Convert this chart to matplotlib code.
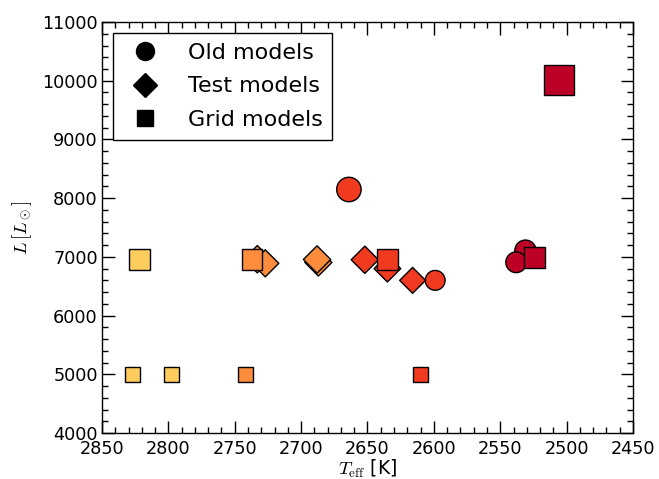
import matplotlib
matplotlib.use("Agg")
import matplotlib.pyplot as plt
from matplotlib.colors import ListedColormap, BoundaryNorm
from matplotlib.lines import Line2D
from matplotlib.ticker import MultipleLocator
import numpy as np

# Data
old_T = [2664, 2531, 2538, 2599]
old_L = [8148, 7105, 6908, 6600]
test_T = [2733, 2727, 2687, 2688, 2652, 2635, 2616]
test_L = [6960, 6890, 6905, 6956, 6951, 6800, 6600]
grid_T = [2822, 2827, 2798, 2742, 2737, 2635, 2610, 2524, 2506]
grid_L = [6960, 5000, 5000, 5000, 6960, 6960, 5000, 6993, 10020]
legend_labels = ["Old models", "Test models", "Grid models"]

plt.rcParams['mathtext.fontset'] = 'cm'

cmap = ListedColormap(["#BD0026", "#F03B20", "#FD8D3C", "#FECC5C"])
norm = BoundaryNorm([2450, 2575, 2675, 2775, 2850], cmap.N)

fig = plt.figure(figsize=(6.59, 4.79), dpi=100)
ax = fig.add_axes([0.1548, 0.096, 0.8057, 0.858])

k = 0.00216  # marker size (pt) per unit luminosity

def sizes(L, f=k):
    return (np.asarray(L) * f) ** 2

ax.scatter(old_T, old_L, s=sizes(old_L), c=old_T, cmap=cmap, norm=norm,
           marker='o', edgecolors='black', linewidths=1.0, zorder=3)
ax.scatter(test_T, test_L, s=sizes(test_L, 0.00200), c=test_T, cmap=cmap, norm=norm,
           marker='D', edgecolors='black', linewidths=1.0, zorder=3)
ax.scatter(grid_T, grid_L, s=sizes(grid_L), c=grid_T, cmap=cmap, norm=norm,
           marker='s', edgecolors='black', linewidths=1.0, zorder=3)

ax.set_xlim(2850, 2450)
ax.set_ylim(4000, 11000)
ax.xaxis.set_major_locator(MultipleLocator(50))
ax.xaxis.set_minor_locator(MultipleLocator(10))
ax.yaxis.set_major_locator(MultipleLocator(1000))
ax.yaxis.set_minor_locator(MultipleLocator(200))
ax.tick_params(which='both', direction='in', top=True, right=True, labelsize=12.7)
ax.tick_params(which='major', length=9, width=1)
ax.tick_params(which='minor', length=4.5, width=1)
ax.tick_params(axis='x', which='major', pad=5)
ax.tick_params(axis='y', which='major', pad=3)
for sp in ax.spines.values():
    sp.set_linewidth(1.0)

ax.set_xlabel(r"$T_{\rm eff}$ [K]", fontsize=13.5, labelpad=0)
ax.set_ylabel(r"$L\,[L_\odot]$", fontsize=13.5, labelpad=6)

handles = [
    Line2D([], [], linestyle='none', marker='o', color='black', markersize=13),
    Line2D([], [], linestyle='none', marker='D', color='black', markersize=12),
    Line2D([], [], linestyle='none', marker='s', color='black', markersize=12),
]
leg = ax.legend(handles, legend_labels, loc='upper left', fontsize=16,
                numpoints=1, fancybox=False, framealpha=1, edgecolor='black',
                handletextpad=0.9, labelspacing=0.6, borderpad=0.45)
leg.get_frame().set_linewidth(1.0)

fig.savefig("out.png", dpi=100)
